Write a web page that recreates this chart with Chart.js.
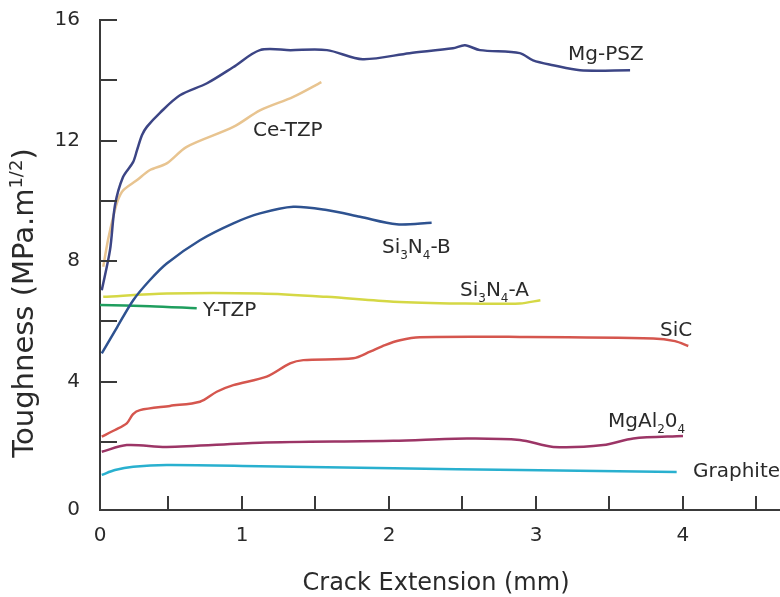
<!DOCTYPE html>
<html>
<head>
<meta charset="utf-8">
<script src="https://cdn.jsdelivr.net/npm/chart.js@4/dist/chart.umd.min.js"></script>
<style>
  html, body { margin: 0; padding: 0; background: #fff; }
  #chart { display: block; }
</style>
</head>
<body>
<canvas id="chart" width="780" height="597"></canvas>
<script>
// R-curves: fracture toughness against crack extension for a set of ceramics

// axis ranges (the axis origin sits a hair off 0,0)
const xMin = 0.034, xMax = 4.66;
const yMin = -0.265, yMax = 16;
const xTicks = [0.5, 1, 1.5, 2, 2.5, 3, 3.5, 4, 4.5];
const yTicks = [2, 4, 6, 8, 10, 12, 14, 16];

// [crack extension (mm), toughness (MPa.m^1/2)]
const mgPsz = [
  [0.046, 7.03], [0.102, 8.36], [0.136, 9.85], [0.19, 10.78], [0.259, 11.28],
  [0.286, 11.68], [0.32, 12.18], [0.354, 12.46], [0.442, 12.92], [0.578, 13.5],
  [0.762, 13.9], [0.939, 14.43], [1.122, 15.0], [1.33, 15.0], [1.578, 15.0],
  [1.82, 14.7], [2.14, 14.9], [2.435, 15.06], [2.517, 15.16], [2.619, 15.0],
  [2.89, 14.9], [2.98, 14.66], [3.116, 14.5], [3.3, 14.33], [3.64, 14.33]
];
const ceTzp = [
  [0.056, 7.81], [0.088, 8.69], [0.124, 9.47], [0.156, 10.02], [0.193, 10.35],
  [0.284, 10.68], [0.374, 11.02], [0.488, 11.24], [0.624, 11.79], [0.941, 12.45],
  [1.122, 13.0], [1.349, 13.45], [1.54, 13.94]
];
const si3n4B = [
  [0.046, 4.93], [0.15, 5.8], [0.26, 6.7], [0.374, 7.37], [0.488, 7.92],
  [0.714, 8.69], [0.941, 9.25], [1.122, 9.58], [1.349, 9.8], [1.576, 9.69],
  [1.803, 9.47], [2.052, 9.22], [2.29, 9.27]
];
const si3n4A = [
  [0.056, 6.81], [0.488, 6.92], [1.122, 6.92], [1.576, 6.81], [2.03, 6.65],
  [2.48, 6.59], [2.89, 6.59], [3.03, 6.7]
];
const yTzp = [[0.034, 6.54], [0.374, 6.5], [0.692, 6.43]];
const sic = [
  [0.046, 2.17], [0.136, 2.39], [0.216, 2.61], [0.259, 2.92], [0.306, 3.05],
  [0.51, 3.19], [0.714, 3.33], [0.828, 3.66], [0.941, 3.88], [1.168, 4.16],
  [1.327, 4.6], [1.417, 4.71], [1.757, 4.77], [1.871, 4.99], [1.973, 5.21],
  [2.075, 5.37], [2.21, 5.47], [2.891, 5.48], [3.798, 5.43], [3.946, 5.34],
  [4.036, 5.18]
];
const mgAl2o4 = [
  [0.046, 1.67], [0.216, 1.89], [0.488, 1.83], [1.122, 1.97], [2.03, 2.03],
  [2.53, 2.11], [2.89, 2.06], [3.118, 1.83], [3.458, 1.89], [3.662, 2.11],
  [4.0, 2.19]
];
const graphite = [
  [0.046, 0.9], [0.136, 1.06], [0.26, 1.17], [0.488, 1.23], [1.122, 1.19],
  [2.03, 1.12], [2.89, 1.06], [3.957, 1.0]
];

const series = [
  { name: "Mg-PSZ", data: mgPsz, color: "#3c4585" },
  { name: "Ce-TZP", data: ceTzp, color: "#e8c490" },
  { name: "Si3N4-B", data: si3n4B, color: "#2e5290" },
  { name: "Si3N4-A", data: si3n4A, color: "#d5d845" },
  { name: "Y-TZP", data: yTzp, color: "#1f9e5e" },
  { name: "SiC", data: sic, color: "#d5564e" },
  { name: "MgAl2O4", data: mgAl2o4, color: "#9c3566" },
  { name: "Graphite", data: graphite, color: "#29b0cf" }
];

// curve names, anchored at the left end of their baseline (data units)
// each part: [text, "sub" | "sup" | undefined]
const curveLabels = [
  { parts: [["Mg-PSZ"]], x: 3.218, y: 14.66 },
  { parts: [["Ce-TZP"]], x: 1.075, y: 12.14 },
  { parts: [["Si"], ["3", "sub"], ["N"], ["4", "sub"], ["-B"]], x: 1.952, y: 8.26 },
  { parts: [["Si"], ["3", "sub"], ["N"], ["4", "sub"], ["-A"]], x: 2.483, y: 6.83 },
  { parts: [["Y-TZP"]], x: 0.735, y: 6.17 },
  { parts: [["SiC"]], x: 3.844, y: 5.51 },
  { parts: [["MgAl"], ["2", "sub"], ["0"], ["4", "sub"]], x: 3.49, y: 2.49 },
  { parts: [["Graphite"]], x: 4.068, y: 0.83 }
];

const FONT = '"DejaVu Sans", Verdana, sans-serif';
const textColor = "#2a2a2a";
const axisColor = "#3a3a3a";

function drawRich(ctx, parts, x, y, size) {
  let cx = x;
  parts.forEach(([text, kind]) => {
    const s = kind ? Math.round(size * 0.62) : size;
    ctx.font = `${s}px ${FONT}`;
    const dy = kind === "sub" ? size * 0.28 : kind === "sup" ? -size * 0.38 : 0;
    ctx.fillText(text, cx, y + dy);
    cx += ctx.measureText(text).width;
  });
}

function richWidth(ctx, parts, size) {
  let w = 0;
  parts.forEach(([text, kind]) => {
    ctx.font = `${kind ? Math.round(size * 0.62) : size}px ${FONT}`;
    w += ctx.measureText(text).width;
  });
  return w;
}

const decorations = {
  id: "decorations",
  afterDraw(chart) {
    const { ctx, chartArea, scales: { x, y } } = chart;
    ctx.save();

    // tick marks pointing into the plot
    ctx.strokeStyle = axisColor;
    ctx.lineWidth = 2;
    ctx.beginPath();
    xTicks.forEach(v => {
      const px = Math.round(x.getPixelForValue(v));
      ctx.moveTo(px, chartArea.bottom);
      ctx.lineTo(px, chartArea.bottom - 14);
    });
    yTicks.forEach(v => {
      const py = Math.round(y.getPixelForValue(v));
      ctx.moveTo(chartArea.left, py);
      ctx.lineTo(chartArea.left + 17, py);
    });
    ctx.stroke();

    // curve names
    ctx.fillStyle = textColor;
    ctx.textAlign = "left";
    ctx.textBaseline = "alphabetic";
    curveLabels.forEach(l => {
      drawRich(ctx, l.parts, x.getPixelForValue(l.x), y.getPixelForValue(l.y), 20);
    });

    // axis titles
    const xTitle = [["Crack Extension (mm)"]];
    const xw = richWidth(ctx, xTitle, 24);
    drawRich(ctx, xTitle, (chartArea.left + chartArea.right) / 2 - xw / 2 - 4, chartArea.bottom + 80, 24);

    const yTitle = [["Toughness (MPa.m"], ["1/2", "sup"], [")"]];
    const yw = richWidth(ctx, yTitle, 29);
    ctx.translate(33, 303);
    ctx.rotate(-Math.PI / 2);
    drawRich(ctx, yTitle, -yw / 2, 0, 29);
    ctx.restore();
  }
};

new Chart(document.getElementById("chart"), {
  type: "line",
  data: {
    datasets: series.map(s => ({
      label: s.name,
      data: s.data.map(([x, y]) => ({ x, y })),
      borderColor: s.color,
      borderWidth: 2.5,
      pointRadius: 0,
      tension: 0.3,
      fill: false
    }))
  },
  options: {
    responsive: false,
    animation: false,
    layout: { padding: { top: 20, right: 0, left: 0, bottom: 0 } },
    plugins: { legend: { display: false }, tooltip: { enabled: false } },
    scales: {
      x: {
        type: "linear",
        min: xMin,
        max: xMax,
        afterBuildTicks: s => { s.ticks = [{ value: s.min }, ...xTicks.map(v => ({ value: v }))]; },
        afterFit: s => { s.height = 87; s.paddingLeft = 0; s.paddingRight = 0; },
        grid: { display: true, drawOnChartArea: false, drawTicks: false },
        border: { display: true, color: axisColor, width: 2 },
        ticks: {
          padding: 14,
          maxRotation: 0,
          autoSkip: false,
          color: textColor,
          font: { family: FONT, size: 20 },
          callback: (v, i) => (i === 0 ? "0" : Number.isInteger(v) ? String(v) : "")
        }
      },
      y: {
        min: yMin,
        max: yMax,
        afterBuildTicks: s => { s.ticks = [{ value: s.min }, ...yTicks.map(v => ({ value: v }))]; },
        // fixed axis width; drop the label overhang so the plot top stays put
        afterFit: s => { s.width = 100; s.paddingTop = 0; s.paddingBottom = 0; },
        grid: { display: true, drawOnChartArea: false, drawTicks: false },
        border: { display: true, color: axisColor, width: 2 },
        ticks: {
          padding: 20,
          autoSkip: false,
          color: textColor,
          font: { family: FONT, size: 20 },
          callback: (v, i) => (i === 0 ? "0" : v % 4 === 0 ? String(v) : "")
        }
      }
    }
  },
  plugins: [decorations]
});
</script>
</body>
</html>
